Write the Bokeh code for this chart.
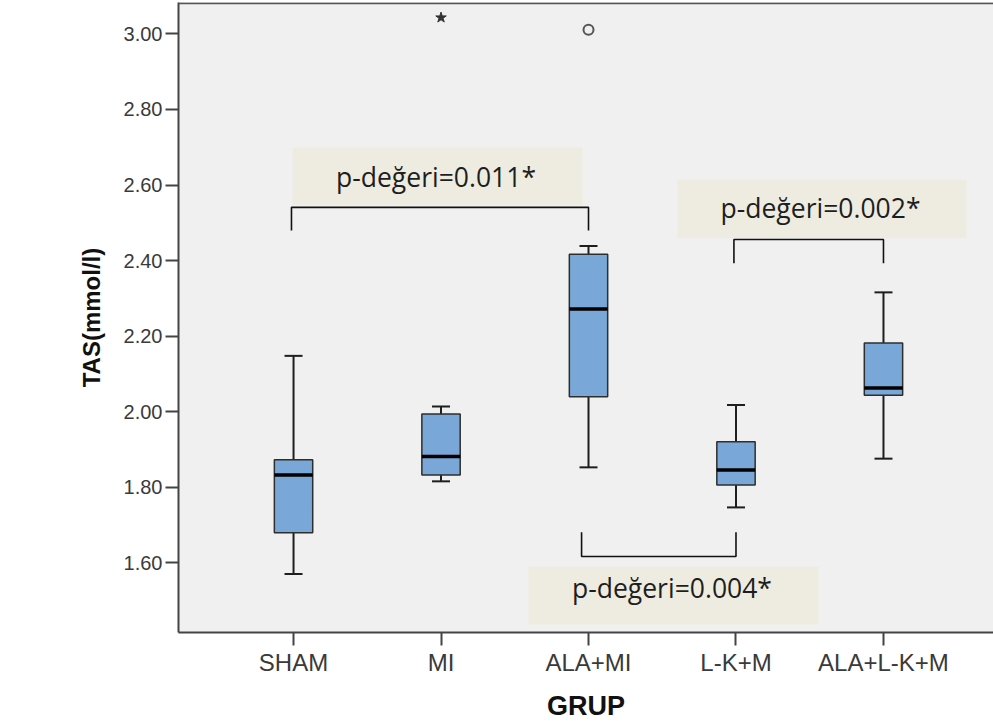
from bokeh.plotting import figure
from bokeh.models import ColumnDataSource, FixedTicker, Span, Range1d
from bokeh.core.properties import value
from bokeh.embed import file_html
from bokeh.resources import INLINE

# ---- data ----
categories = ["SHAM", "MI", "ALA+MI", "L-K+M", "ALA+L-K+M"]
whisker_low = [1.571, 1.816, 1.853, 1.747, 1.876]
q1 = [1.680, 1.833, 2.040, 1.806, 2.044]
median = [1.833, 1.882, 2.272, 1.846, 2.063]
q3 = [1.873, 1.994, 2.417, 1.921, 2.182]
whisker_high = [2.148, 2.014, 2.439, 2.018, 2.316]
extreme_cat = ["MI"]          # shown as star
extreme_val = [3.043]
outlier_cat = ["ALA+MI"]      # shown as circle
outlier_val = [3.011]
y_ticks = [1.60, 1.80, 2.00, 2.20, 2.40, 2.60, 2.80, 3.00]
p_labels = ["p-değeri=0.011*", "p-değeri=0.002*", "p-değeri=0.004*"]
p_pairs = [("SHAM", "ALA+MI"), ("L-K+M", "ALA+L-K+M"), ("ALA+MI", "L-K+M")]

idx = {c: i for i, c in enumerate(categories)}
xs = [idx[c] for c in categories]
BW = 0.26
CAP = 0.122

src = ColumnDataSource(dict(
    x=xs, q1=q1, q3=q3, med=median, lo=whisker_low, hi=whisker_high,
    xl=[x - BW / 2 for x in xs], xr=[x + BW / 2 for x in xs],
    cl=[x - CAP / 2 for x in xs], cr=[x + CAP / 2 for x in xs],
))

Y0, Y1 = 1.416, 3.083
p = figure(width=993, height=726, output_backend="svg", toolbar_location=None,
           x_range=Range1d(-0.78, 4.746), y_range=Range1d(Y0, Y1),
           min_border_left=178, min_border_right=0, min_border_top=2, min_border_bottom=94)
p.background_fill_color = "#f0f0f0"
p.border_fill_color = "white"
p.outline_line_color = None
p.grid.visible = False

# frame top line
p.add_layout(Span(location=Y1 - 0.002, dimension="width", line_color="#555555", line_width=2))

# whiskers
wl = dict(line_color="#1e1e1e", line_width=2)
p.segment(x0="x", y0="q3", x1="x", y1="hi", source=src, **wl)
p.segment(x0="x", y0="q1", x1="x", y1="lo", source=src, **wl)
p.segment(x0="cl", y0="hi", x1="cr", y1="hi", source=src, **wl)
p.segment(x0="cl", y0="lo", x1="cr", y1="lo", source=src, **wl)
# boxes
p.quad(left="xl", right="xr", bottom="q1", top="q3", source=src,
       fill_color="#79a7d7", line_color="#2e2e2e", line_width=1.5)
p.segment(x0="xl", y0="med", x1="xr", y1="med", source=src, line_color="black", line_width=3.5)

# outliers
p.scatter([idx[c] for c in extreme_cat], extreme_val, marker="star", size=11,
          fill_color="#333333", line_color="#333333")
p.scatter([idx[c] for c in outlier_cat], outlier_val, marker="circle", size=10,
          fill_color=None, line_color="#555555", line_width=2)

# p-value annotation boxes
box_l = [-0.007, 2.603, 1.593]
box_r = [1.959, 4.563, 3.559]
box_b = [2.548, 2.460, 1.437]
box_t = [2.699, 2.614, 1.590]
txt_y = [2.620, 2.538, 1.535]
p.quad(left=box_l, right=box_r, bottom=box_b, top=box_t, fill_color="#eeece1", line_color=None)
p.text(x=[(l + r) / 2 - 0.01 for l, r in zip(box_l, box_r)], y=txt_y, text=p_labels,
       text_font=value("Open Sans"), text_font_size="26.5px", text_color="#1e1e1e",
       text_align="center", text_baseline="middle")

# brackets
br_y = [2.541, 2.456, 1.617]
br_end = [2.480, 2.393, 1.681]
br_x0 = [idx[a] - 0.014 for a, b in p_pairs[:2]] + [idx[p_pairs[2][0]] - 0.047]
br_x1 = [idx[b] for a, b in p_pairs]
p.multi_line(xs=[[a, a, b, b] for a, b in zip(br_x0, br_x1)],
             ys=[[e, y, y, e] for y, e in zip(br_y, br_end)],
             line_color="#111111", line_width=1.6)

# axes
p.xaxis.ticker = FixedTicker(ticks=xs)
p.xaxis.major_label_overrides = {i: c for i, c in enumerate(categories)}
p.yaxis.ticker = FixedTicker(ticks=y_ticks)
p.yaxis.major_label_overrides = {t: f"{t:.2f}" for t in y_ticks}
for ax in (p.xaxis, p.yaxis):
    ax.axis_line_color = "#444444"
    ax.axis_line_width = 2
    ax.major_tick_line_color = "#444444"
    ax.major_tick_line_width = 2
    ax.major_tick_out = 13
    ax.major_tick_in = 0
    ax.minor_tick_line_color = None
    ax.major_label_text_font = "Liberation Sans"
    ax.major_label_text_color = "#3a3a3a"
    ax.axis_label_text_font = "Liberation Sans"
    ax.axis_label_text_font_style = "bold"
    ax.axis_label_text_color = "#111111"
p.yaxis.major_label_text_font_size = "20px"
p.xaxis.major_label_text_font_size = "24px"
p.yaxis.major_label_standoff = 3
p.xaxis.major_label_standoff = 3
p.xaxis.axis_label = "GRUP"
p.yaxis.axis_label = "TAS(mmol/l)"
p.xaxis.axis_label_text_font_size = "27px"
p.yaxis.axis_label_text_font_size = "24px"
p.xaxis.axis_label_standoff = 12
p.yaxis.axis_label_standoff = 16

open("out.html", "w").write(file_html(p, INLINE))
